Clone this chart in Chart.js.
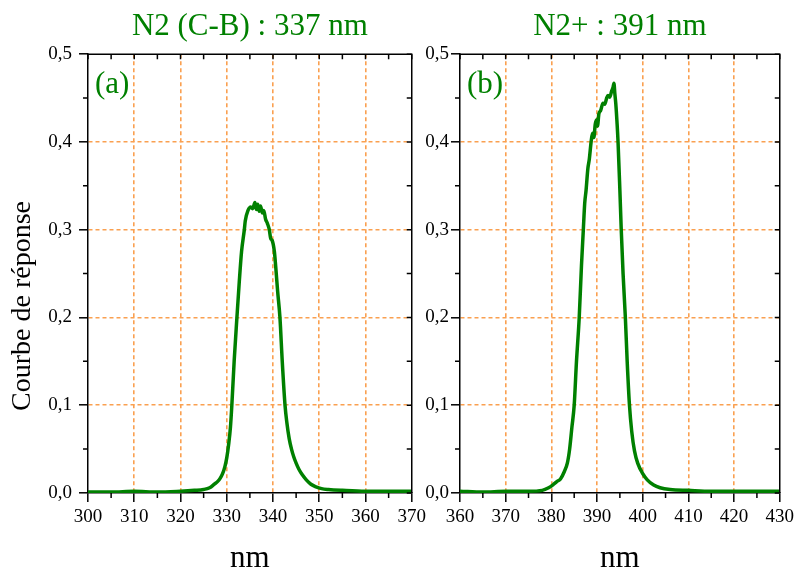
<!DOCTYPE html>
<html>
<head>
<meta charset="utf-8">
<script src="https://cdn.jsdelivr.net/npm/chart.js@4"></script>
<style>
  body { margin: 0; background: #fff; }
  #wrap { position: relative; width: 798px; height: 570px; }
  canvas { position: absolute; top: 0; }
  #chartA { left: 0; }
  #chartB { left: 400px; }
</style>
</head>
<body>
<div id="wrap">
  <canvas id="chartA" width="430" height="570"></canvas>
  <canvas id="chartB" width="398" height="570"></canvas>
</div>
<script>
// ---- donnees ----
var nmA = [300, 305, 310, 315, 320, 323, 325, 326.3, 327.3, 328.0, 328.6, 329.1, 329.6, 330.0, 330.4, 330.8, 331.1, 331.6, 332.2, 332.7, 333.2, 333.8, 334.0, 334.6, 335.2, 335.6, 336.1, 336.4, 336.7, 337.0, 337.3, 337.7, 338.0, 338.4, 338.8, 339.2, 339.5, 339.8, 340.3, 340.6, 341.0, 341.5, 342.0, 342.6, 343.0, 343.5, 344.0, 344.5, 345.0, 345.6, 346.3, 347.2, 348.2, 349.3, 350.5, 352, 355, 360, 365, 370];
var repA = [0.001, 0.001, 0.002, 0.001, 0.002, 0.003, 0.004, 0.006, 0.010, 0.013, 0.017, 0.022, 0.030, 0.040, 0.055, 0.075, 0.100, 0.150, 0.200, 0.240, 0.275, 0.300, 0.310, 0.322, 0.326, 0.324, 0.331, 0.323, 0.329, 0.321, 0.327, 0.319, 0.322, 0.312, 0.307, 0.300, 0.290, 0.288, 0.275, 0.257, 0.230, 0.200, 0.150, 0.100, 0.080, 0.062, 0.050, 0.041, 0.034, 0.027, 0.021, 0.015, 0.010, 0.007, 0.005, 0.004, 0.003, 0.002, 0.002, 0.002];

var nmB = [360, 365, 370, 375, 378, 379.4, 380.5, 381.2, 382, 382.8, 383.5, 384.0, 384.5, 385.0, 385.5, 386.1, 386.6, 387.0, 387.3, 387.6, 388.0, 388.3, 388.7, 389.0, 389.3, 389.6, 389.9, 390.1, 390.4, 390.8, 391.3, 391.7, 392.1, 392.4, 392.8, 393.2, 393.5, 393.7, 393.9, 394.1, 394.4, 394.6, 395.0, 395.3, 395.7, 396.2, 396.6, 397.1, 397.6, 398.2, 398.9, 400, 401, 402.4, 403.8, 406, 410, 415, 420, 425, 430];
var repB = [0.002, 0.001, 0.002, 0.002, 0.003, 0.006, 0.010, 0.013, 0.016, 0.024, 0.034, 0.050, 0.075, 0.100, 0.150, 0.200, 0.260, 0.300, 0.330, 0.345, 0.370, 0.380, 0.400, 0.410, 0.405, 0.420, 0.425, 0.418, 0.432, 0.436, 0.444, 0.443, 0.450, 0.453, 0.451, 0.458, 0.462, 0.467, 0.455, 0.444, 0.420, 0.400, 0.345, 0.300, 0.250, 0.200, 0.150, 0.100, 0.070, 0.048, 0.034, 0.022, 0.015, 0.009, 0.006, 0.004, 0.003, 0.002, 0.002, 0.002, 0.002];

var yTicks = [0, 0.1, 0.2, 0.3, 0.4, 0.5];
var titres = ["N2 (C-B) : 337 nm", "N2+ : 391 nm"];
var lettres = ["(a)", "(b)"];
var titreY = "Courbe de réponse";

var vert = "#008000";
var orange = "rgb(250,160,80)";
var serif = "'Liberation Serif', 'Times New Roman', serif";

// cadre haut/droite + petites graduations + lettre du panneau
var cadre = {
    id: "cadre",
    afterDraw: function (chart, args, opts) {
        var ctx = chart.ctx, a = chart.chartArea;
        var x = chart.scales.x, y = chart.scales.y;
        ctx.save();
        ctx.strokeStyle = "#000";
        ctx.lineWidth = 1.5;
        ctx.beginPath();
        ctx.moveTo(a.left, a.top);
        ctx.lineTo(a.right, a.top);
        ctx.lineTo(a.right, a.bottom);
        ctx.stroke();

        ctx.beginPath();
        var n = Math.round((x.max - x.min) / 5);
        for (var i = 0; i <= n; i++) {
            var px = x.getPixelForValue(x.min + i * 5);
            if (i % 2 === 1) {
                ctx.moveTo(px, a.bottom);
                ctx.lineTo(px, a.bottom + 5);
            }
            ctx.moveTo(px, a.top);
            ctx.lineTo(px, a.top + 5);
        }
        for (var j = 0; j <= 10; j++) {
            var py = y.getPixelForValue(j * 0.05);
            if (j % 2 === 1) {
                ctx.moveTo(a.left, py);
                ctx.lineTo(a.left - 5, py);
            }
            ctx.moveTo(a.right, py);
            ctx.lineTo(a.right - 5, py);
        }
        ctx.stroke();

        ctx.fillStyle = vert;
        ctx.font = "31px " + serif;
        ctx.textBaseline = "middle";
        ctx.textAlign = "left";
        ctx.fillText(opts.lettre, a.left + 7, a.top + 31);

        // titre de l'axe y, un peu plus bas que le milieu comme sur la figure
        if (opts.titreY) {
            ctx.fillStyle = "#000";
            ctx.font = "28px " + serif;
            ctx.textAlign = "center";
            ctx.translate(23, 306);
            ctx.rotate(-Math.PI / 2);
            ctx.fillText(opts.titreY, 0, 0);
        }
        ctx.restore();
    }
};

// pas de ligne orange sur les bords du cadre
function gridColor(c) {
    var s = c.scale;
    if (!c.tick || c.tick.value <= s.min || c.tick.value >= s.max) return "rgba(0,0,0,0)";
    return orange;
}

function makeChart(id, nm, rep, xmin, xmax, idx, yWidth, yPad, yTitle) {
    var ctx = document.getElementById(id).getContext("2d");
    return new Chart(ctx, {
        type: "line",
        data: {
            datasets: [{
                data: nm.map((v, i) => ({ x: v, y: rep[i] })),
                borderColor: vert,
                borderWidth: 3.5,
                pointRadius: 0,
                cubicInterpolationMode: "monotone",
                fill: false
            }]
        },
        options: {
            responsive: false,
            animation: false,
            devicePixelRatio: 1,
            layout: { padding: { left: 0, right: idx === 0 ? 17 : 14, top: 0, bottom: 0 } },
            plugins: {
                legend: { display: false },
                tooltip: { enabled: false },
                title: {
                    display: true,
                    text: titres[idx],
                    color: vert,
                    fullSize: false,
                    font: { family: serif, size: 31, weight: "normal" },
                    padding: { top: 8, bottom: 9 }
                },
                cadre: { lettre: lettres[idx], titreY: yTitle }
            },
            scales: {
                x: {
                    type: "linear",
                    min: xmin,
                    max: xmax,
                    afterFit: function (s) { s.height = 77; },
                    ticks: {
                        stepSize: 10,
                        color: "#000",
                        padding: 4,
                        maxRotation: 0,
                        font: { family: serif, size: 19 }
                    },
                    grid: {
                        color: gridColor,
                        lineWidth: 1.6,
                        tickColor: "#000",
                        tickLength: 9,
                        tickWidth: 1.5,
                        tickBorderDash: []
                    },
                    border: { color: "#000", width: 1.5, dash: [4, 3] },
                    title: {
                        display: true,
                        text: "nm",
                        color: "#000",
                        font: { family: serif, size: 31, lineHeight: 0.75 },
                        padding: { top: 0, bottom: 0 }
                    }
                },
                y: {
                    min: 0,
                    max: 0.5,
                    afterFit: function (s) { s.width = yWidth; },
                    afterBuildTicks: function (s) { s.ticks = yTicks.map(v => ({ value: v })); },
                    ticks: {
                        color: "#000",
                        padding: yPad,
                        font: { family: serif, size: 19 },
                        callback: v => v.toFixed(1).replace(".", ",")
                    },
                    grid: {
                        color: gridColor,
                        lineWidth: 1.6,
                        tickColor: "#000",
                        tickLength: 9,
                        tickWidth: 1.5,
                        tickBorderDash: []
                    },
                    border: { color: "#000", width: 1.5, dash: [4, 3] }
                }
            }
        },
        plugins: [cadre]
    });
}

var chartA = makeChart("chartA", nmA, repA, 300, 370, 0, 88, 7, titreY);
var chartB = makeChart("chartB", nmB, repB, 360, 430, 1, 60, 2, null);
</script>
</body>
</html>
